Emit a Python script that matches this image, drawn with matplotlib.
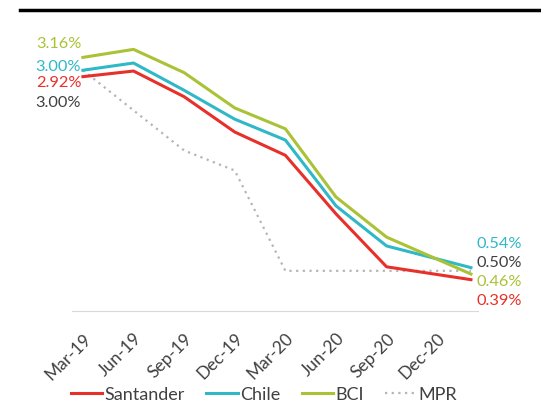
import matplotlib.pyplot as plt
from matplotlib.lines import Line2D

plt.rcParams['font.family'] = ['Lato', 'DejaVu Sans']

# quarterly points, months counted from Mar-19; last point is Feb-21
months = [0, 3, 6, 9, 12, 15, 18, 23]
tick_months = [0, 3, 6, 9, 12, 15, 18, 21]
tick_labels = ['Mar-19', 'Jun-19', 'Sep-19', 'Dec-19', 'Mar-20', 'Jun-20', 'Sep-20', 'Dec-20']

santander = [2.92, 2.99, 2.67, 2.23, 1.94, 1.21, 0.55, 0.39]
chile = [3.00, 3.09, 2.75, 2.39, 2.13, 1.31, 0.81, 0.54]
bci = [3.16, 3.26, 2.97, 2.53, 2.27, 1.42, 0.92, 0.46]
mpr = [3.00, 2.50, 2.00, 1.75, 0.50, 0.50, 0.50, 0.50]

red = '#e8302a'
teal = '#2fb8c6'
green = '#a9c236'
gray = '#b5b5b5'
dark = '#404040'

fig = plt.figure(figsize=(5.41, 4.07), dpi=100)
ax = fig.add_axes([0.133, 0.236, 0.750, 0.690])

ax.plot(months, mpr, color=gray, lw=1.6, ls=(0, (1, 2)))
ax.plot(months, santander, color=red, lw=2.2)
ax.plot(months, chile, color=teal, lw=2.2)
ax.plot(months, bci, color=green, lw=2.2)

ax.set_xlim(-0.65, 23.4)
ax.set_ylim(0, 3.5)

# start and end value labels
fs = 11.8
ax.text(-0.1, 3.33, f'{bci[0]:.2f}%', color=green, ha='right', va='center', fontsize=fs)
ax.text(-0.1, 3.04, f'{chile[0]:.2f}%', color=teal, ha='right', va='center', fontsize=fs)
ax.text(-0.1, 2.84, f'{santander[0]:.2f}%', color=red, ha='right', va='center', fontsize=fs)
ax.text(-0.1, 2.59, f'{mpr[0]:.2f}%', color=dark, ha='right', va='center', fontsize=fs)
ax.text(23.3, 0.84, f'{chile[-1]:.2f}%', color=teal, ha='left', va='center', fontsize=fs)
ax.text(23.3, 0.60, f'{mpr[-1]:.2f}%', color=dark, ha='left', va='center', fontsize=fs)
ax.text(23.3, 0.36, f'{bci[-1]:.2f}%', color=green, ha='left', va='center', fontsize=fs)
ax.text(23.3, 0.125, f'{santander[-1]:.2f}%', color=red, ha='left', va='center', fontsize=fs)

for side in ['top', 'right', 'left']:
    ax.spines[side].set_visible(False)
ax.spines['bottom'].set_color('#d9d9d9')
ax.set_yticks([])
ax.set_xticks(tick_months)
ax.set_xticklabels(tick_labels, rotation=45, ha='right', va='top',
                   rotation_mode='anchor', fontsize=12.5, color=dark)
ax.tick_params(axis='x', length=0, pad=14)

handles = [
    Line2D([], [], color=red, lw=2.2),
    Line2D([], [], color=teal, lw=2.2),
    Line2D([], [], color=green, lw=2.2),
    Line2D([], [], color=gray, lw=1.6, ls=(0, (1, 2))),
]
fig.legend(handles, ['Santander', 'Chile', 'BCI', 'MPR'], loc='center',
           bbox_to_anchor=(0.488, 0.03), ncol=4, frameon=False, fontsize=13,
           handlelength=1.75, handletextpad=0.1, columnspacing=1.2,
           labelcolor=dark)

# heavy rule under the header
fig.add_artist(Line2D([0.037, 1.0], [0.975, 0.975], color='black', lw=2.5,
                      transform=fig.transFigure))

fig.savefig('out.png', dpi=100)
